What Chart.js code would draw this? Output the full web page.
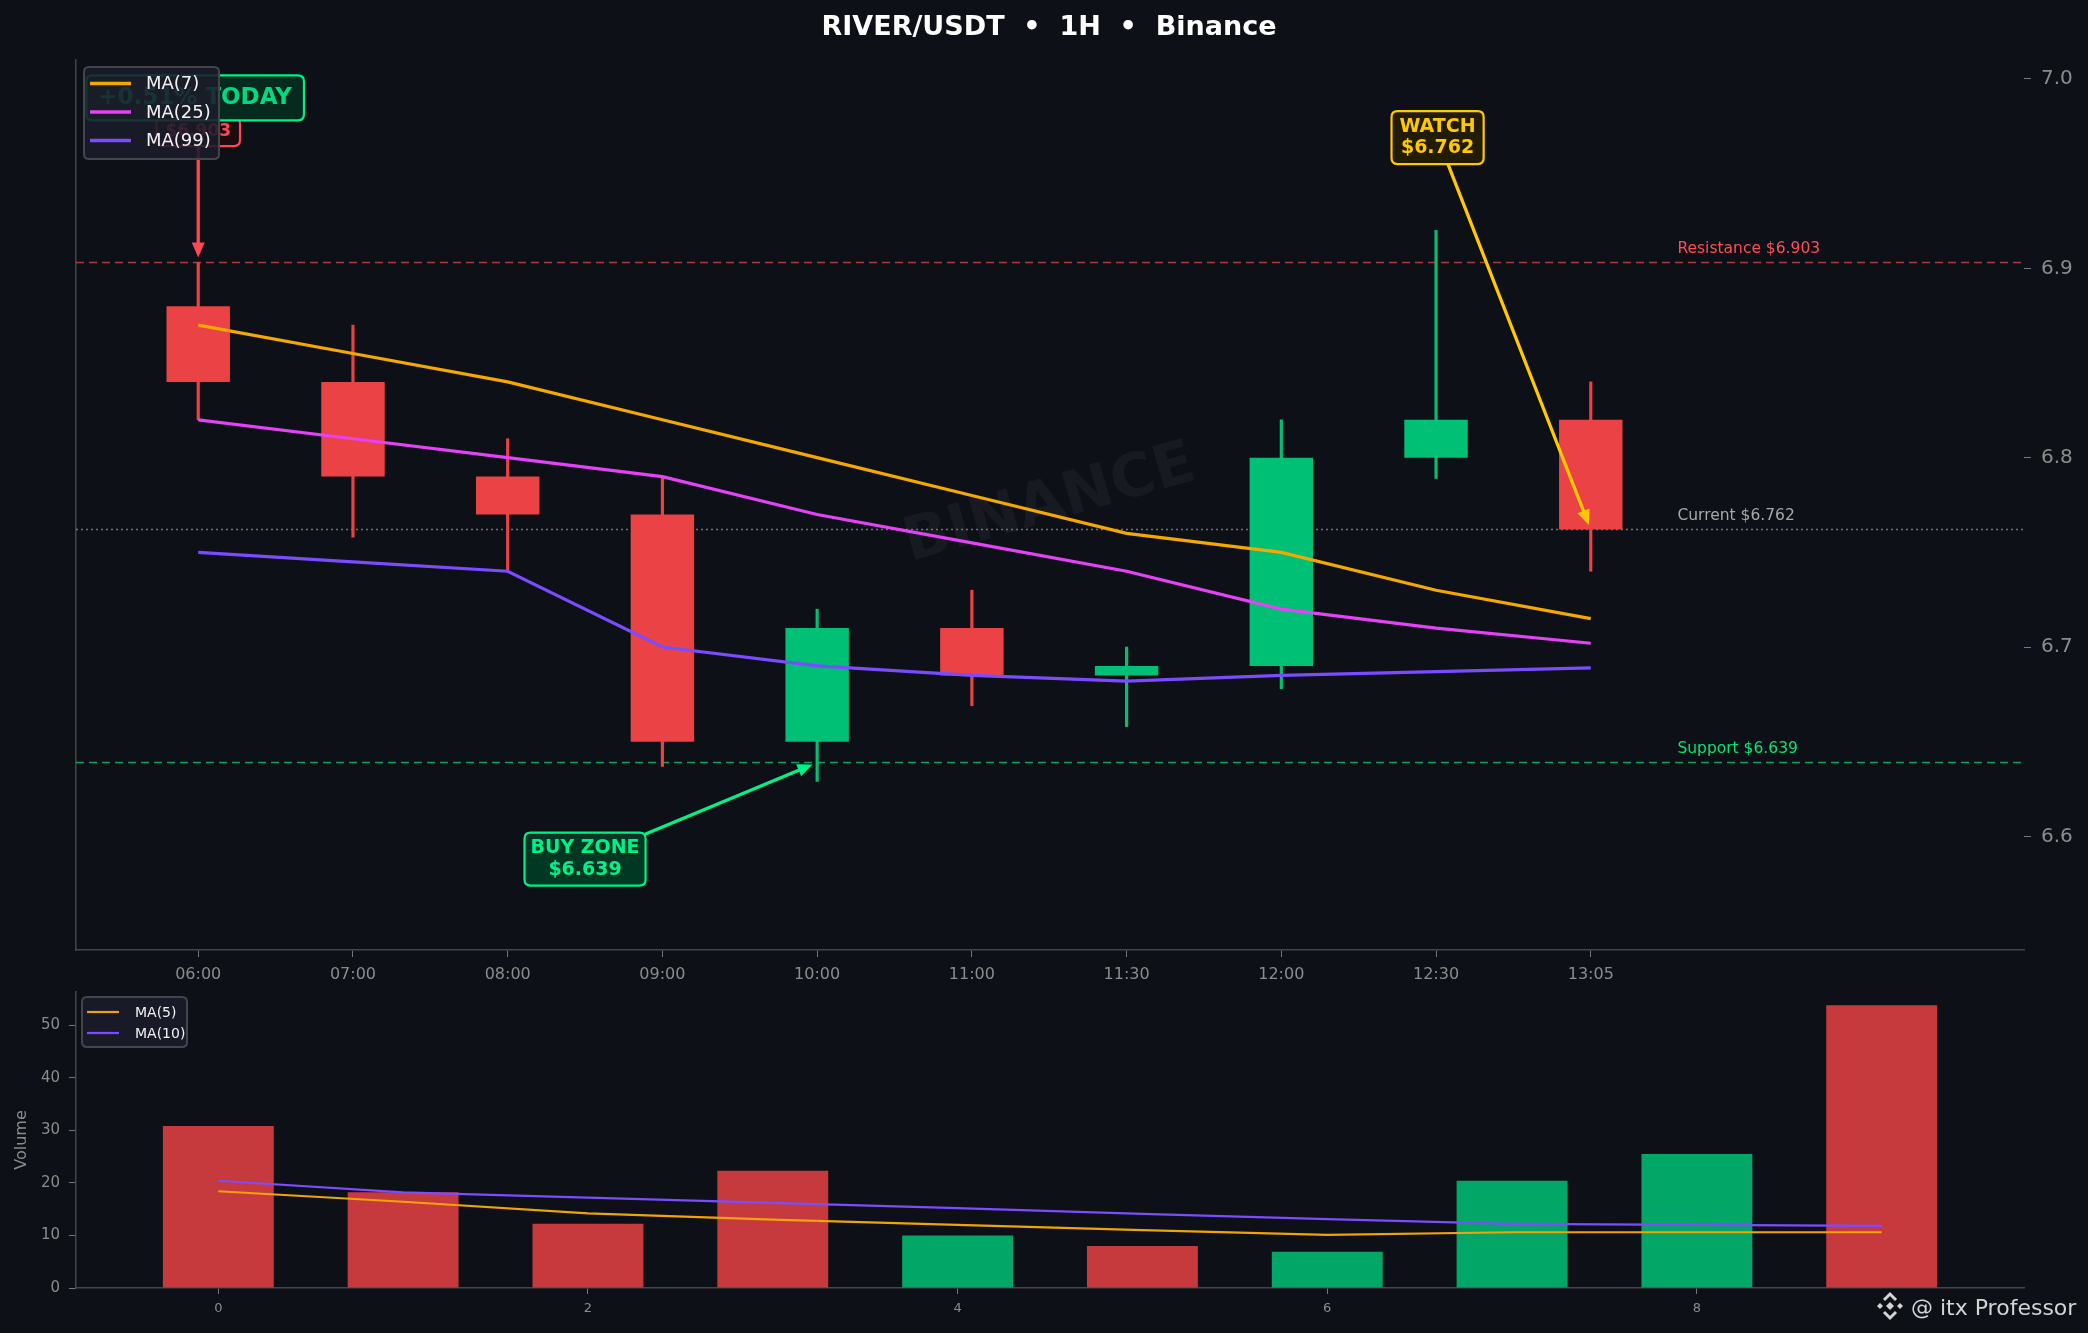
<!DOCTYPE html>
<html>
<head>
<meta charset="utf-8">
<script src="https://cdn.jsdelivr.net/npm/chart.js@4.4.1/dist/chart.umd.min.js"></script>
<style>
  html, body { margin: 0; padding: 0; background: #0d1017; }
  body { width: 2088px; height: 1333px; position: relative; overflow: hidden; }
  canvas { position: absolute; left: 0; }
  #priceChart { top: 0; }
  #volChart { top: 974px; }
</style>
</head>
<body>
<canvas id="priceChart" width="2088" height="1000"></canvas>
<canvas id="volChart" width="2088" height="359"></canvas>
<script>
const FONT = "'DejaVu Sans', sans-serif";
Chart.defaults.font.family = FONT;

// candles
const times = ['06:00', '07:00', '08:00', '09:00', '10:00', '11:00', '11:30', '12:00', '12:30', '13:05'];
const opens = [6.880, 6.840, 6.790, 6.770, 6.650, 6.710, 6.685, 6.690, 6.800, 6.820];
const highs = [6.903, 6.870, 6.810, 6.790, 6.720, 6.730, 6.700, 6.820, 6.920, 6.840];
const lows = [6.820, 6.758, 6.740, 6.637, 6.629, 6.669, 6.658, 6.678, 6.789, 6.740];
const closes = [6.840, 6.790, 6.770, 6.650, 6.710, 6.685, 6.690, 6.800, 6.820, 6.762];

const ma7 = [6.870, 6.855, 6.840, 6.820, 6.800, 6.780, 6.760, 6.750, 6.730, 6.715];
const ma25 = [6.820, 6.810, 6.800, 6.790, 6.770, 6.755, 6.740, 6.720, 6.710, 6.702];
const ma99 = [6.750, 6.745, 6.740, 6.700, 6.690, 6.685, 6.682, 6.685, 6.687, 6.689];

const volumes = [30.8, 18.2, 12.2, 22.3, 10.0, 8.0, 6.9, 20.4, 25.5, 53.8];
const volMa5 = [18.4, 16.4, 14.2, 13.0, 12.0, 11.0, 10.1, 10.6, 10.6, 10.6];
const volMa10 = [20.4, 18.2, 17.2, 16.2, 15.2, 14.1, 13.1, 12.2, 12.0, 11.8];

const resistance = 6.903;
const current = 6.762;
const support = 6.639;

const priceTicks = [6.6, 6.7, 6.8, 6.9, 7.0];
const volTicks = [0, 10, 20, 30, 40, 50];
const volXTicks = [0, 2, 4, 6, 8];

const xMin = -0.79, xMax = 11.8;
const UP = '#00c076', DOWN = '#ea4245';
const VOL_UP = '#02a768', VOL_DOWN = '#c63a3e';
const C_MA7 = '#f5a800', C_MA25 = '#e342f5', C_MA99 = '#7b4cff';

const candleColors = closes.map((c, i) => c >= opens[i] ? UP : DOWN);
const volColors = closes.map((c, i) => c >= opens[i] ? VOL_UP : VOL_DOWN);
const pts = arr => arr.map((v, i) => ({ x: i, y: v }));

function levelLine(label, v, color, dash) {
    return {
        type: 'line', label: label,
        data: [{ x: xMin, y: v }, { x: xMax, y: v }],
        borderColor: color, borderWidth: 1.5, borderDash: dash,
        pointRadius: 0, order: 10
    };
}

function maLine(label, arr, color, width) {
    return {
        type: 'line', label: label, data: pts(arr),
        borderColor: color, borderWidth: width, pointRadius: 0,
        tension: 0, order: 1
    };
}

function roundRect(ctx, x, y, w, h, r) {
    ctx.beginPath();
    ctx.moveTo(x + r, y);
    ctx.lineTo(x + w - r, y);
    ctx.quadraticCurveTo(x + w, y, x + w, y + r);
    ctx.lineTo(x + w, y + h - r);
    ctx.quadraticCurveTo(x + w, y + h, x + w - r, y + h);
    ctx.lineTo(x + r, y + h);
    ctx.quadraticCurveTo(x, y + h, x, y + h - r);
    ctx.lineTo(x, y + r);
    ctx.quadraticCurveTo(x, y, x + r, y);
    ctx.closePath();
}

function drawArrow(ctx, x1, y1, x2, y2, color, lw) {
    const ang = Math.atan2(y2 - y1, x2 - x1), hl = 15, hw = 6.5;
    const bx = x2 - hl * Math.cos(ang), by = y2 - hl * Math.sin(ang);
    ctx.strokeStyle = color;
    ctx.lineWidth = lw;
    ctx.lineCap = 'round';
    ctx.beginPath();
    ctx.moveTo(x1, y1);
    ctx.lineTo(bx, by);
    ctx.stroke();
    ctx.fillStyle = color;
    ctx.beginPath();
    ctx.moveTo(x2, y2);
    ctx.lineTo(bx + hw * Math.sin(ang), by - hw * Math.cos(ang));
    ctx.lineTo(bx - hw * Math.sin(ang), by + hw * Math.cos(ang));
    ctx.closePath();
    ctx.fill();
}

// text callouts, placed in data coordinates
const notes = [
    { lines: ['$6.903'], at: [0, 6.972], target: [0, resistance], color: '#ff4757', fill: '#1e0b0e', size: 17, padX: 9, padY: 4.5 },
    { lines: ['+0.51% TODAY'], at: [-0.02, 6.990], color: '#00d982', border: '#00ef86', fill: '#062a1d', size: 23, padX: 12, padY: 9.5 },
    { lines: ['WATCH', '$6.762'], at: [8.01, 6.969], target: [9, current], color: '#ffc800', fill: '#221c05', size: 19, padX: 8, padY: 5 },
    { lines: ['BUY ZONE', '$6.639'], at: [2.5, 6.588], target: [4, support], color: '#00f08a', fill: '#003823', size: 19, padX: 6, padY: 5 }
];

function drawNote(ctx, n, x, y) {
    ctx.font = `bold ${n.size}px ${FONT}`;
    const lineH = n.size * 1.13;
    const tw = Math.max(...n.lines.map(t => ctx.measureText(t).width));
    const w = tw + 2 * n.padX, h = n.lines.length * lineH + 2 * n.padY;
    const cx = x.getPixelForValue(n.at[0]), cy = y.getPixelForValue(n.at[1]);
    if (n.target) {
        const tx = x.getPixelForValue(n.target[0]), ty = y.getPixelForValue(n.target[1]);
        const dx = tx - cx, dy = ty - cy;
        const s = Math.min(Math.abs(w / 2 / dx) || Infinity, Math.abs(h / 2 / dy) || Infinity);
        const len = Math.hypot(dx, dy);
        drawArrow(ctx, cx + dx * s, cy + dy * s, tx - dx / len * 5, ty - dy / len * 5, n.color, 3.3);
    }
    roundRect(ctx, cx - w / 2, cy - h / 2, w, h, 6);
    ctx.fillStyle = n.fill;
    ctx.fill();
    ctx.strokeStyle = n.border || n.color;
    ctx.lineWidth = 2.2;
    ctx.stroke();
    ctx.fillStyle = n.color;
    ctx.textAlign = 'center';
    ctx.textBaseline = 'middle';
    n.lines.forEach((t, i) => ctx.fillText(t, cx, cy - h / 2 + n.padY + lineH * (i + 0.5)));
}

function drawLegend(ctx, left, top, w, h, items, size, first, gap, swL, swR, textX, lw) {
    roundRect(ctx, left, top, w, h, 5);
    ctx.fillStyle = 'rgba(27,27,42,0.88)';
    ctx.fill();
    ctx.strokeStyle = '#44444c';
    ctx.lineWidth = 2;
    ctx.stroke();
    ctx.font = `${size}px ${FONT}`;
    ctx.textAlign = 'left';
    ctx.textBaseline = 'middle';
    items.forEach((it, i) => {
        const yy = top + first + gap * i;
        ctx.strokeStyle = it.color;
        ctx.lineWidth = lw;
        ctx.lineCap = 'butt';
        ctx.beginPath();
        ctx.moveTo(left + swL, yy);
        ctx.lineTo(left + swR, yy);
        ctx.stroke();
        ctx.fillStyle = '#f2f2f2';
        ctx.fillText(it.label, left + textX, yy + 1);
    });
}

const levelLabels = [
    { text: 'Resistance $6.903', value: resistance, color: '#ff4d5a' },
    { text: 'Current $6.762', value: current, color: '#a8a8a8' },
    { text: 'Support $6.639', value: support, color: '#00e676' }
];

const priceOverlay = {
    id: 'priceOverlay',
    beforeDatasetsDraw(chart) {
        const { ctx, chartArea: a } = chart;
        ctx.save();
        ctx.translate((a.left + a.right) / 2, (a.top + a.bottom) / 2);
        ctx.rotate(-16 * Math.PI / 180);
        ctx.font = `bold 60px ${FONT}`;
        ctx.fillStyle = 'rgba(255,255,255,0.045)';
        ctx.textAlign = 'center';
        ctx.textBaseline = 'middle';
        ctx.fillText('BINANCE', 0, 0);
        ctx.restore();
    },
    afterDatasetsDraw(chart) {
        const { ctx, chartArea: a, scales: { x, y } } = chart;
        ctx.save();
        ctx.font = `15.5px ${FONT}`;
        ctx.textAlign = 'left';
        ctx.textBaseline = 'alphabetic';
        levelLabels.forEach(l => {
            ctx.fillStyle = l.color;
            ctx.fillText(l.text, x.getPixelForValue(9.56), y.getPixelForValue(l.value) - 9.5);
        });
        notes.forEach(n => drawNote(ctx, n, x, y));
        drawLegend(ctx, a.left + 8, a.top + 7, 135, 92,
            [{ label: 'MA(7)', color: C_MA7 }, { label: 'MA(25)', color: C_MA25 }, { label: 'MA(99)', color: C_MA99 }],
            18, 16.5, 28.5, 6, 47, 62, 3.5);
        ctx.restore();
    }
};

new Chart(document.getElementById('priceChart'), {
    type: 'bar',
    data: {
        datasets: [
            levelLine('Resistance', resistance, 'rgba(230,60,75,0.8)', [8, 5]),
            levelLine('Current', current, 'rgba(150,150,150,0.75)', [2, 3]),
            levelLine('Support', support, 'rgba(0,200,110,0.8)', [8, 5]),
            {
                type: 'bar', label: 'Wick',
                data: times.map((t, i) => ({ x: i, y: [lows[i], highs[i]] })),
                backgroundColor: candleColors, barThickness: 2.5, grouped: false, order: 5
            },
            {
                type: 'bar', label: 'Body',
                data: times.map((t, i) => ({ x: i, y: [opens[i], closes[i]] })),
                backgroundColor: candleColors, barPercentage: 0.41, categoryPercentage: 1,
                grouped: false, order: 4
            },
            maLine('MA(7)', ma7, C_MA7, 3.2),
            maLine('MA(25)', ma25, C_MA25, 3.2),
            maLine('MA(99)', ma99, C_MA99, 3.2)
        ]
    },
    options: {
        responsive: false,
        animation: false,
        events: [],
        layout: { padding: { left: 10, right: 0, top: 0, bottom: 0 } },
        plugins: {
            legend: { display: false },
            tooltip: { enabled: false },
            title: {
                display: true, text: 'RIVER/USDT  •  1H  •  Binance', color: '#ffffff',
                font: { size: 27, weight: 'bold' }, padding: { top: 11.5, bottom: 16.1 }
            }
        },
        scales: {
            x: {
                type: 'linear', min: xMin, max: xMax, offset: false,
                afterBuildTicks: s => { s.ticks = times.map((t, i) => ({ value: i })); },
                afterFit: s => { s.height = 50; },
                ticks: { callback: v => times[v], color: '#8c8c8c', font: { size: 16 }, padding: 8, autoSkip: false, maxRotation: 0 },
                grid: { display: true, drawOnChartArea: false, drawTicks: true, tickLength: 7, color: '#777', offset: false },
                border: { display: true, color: '#454545', width: 1.5 }
            },
            y: {
                type: 'linear', position: 'right', min: 6.54, max: 7.01,
                afterBuildTicks: s => { s.ticks = priceTicks.map(v => ({ value: v })); },
                afterFit: s => { s.width = 64; },
                ticks: { callback: v => v.toFixed(1), color: '#8c8c8c', font: { size: 20 }, padding: 10 },
                grid: { drawOnChartArea: false, tickLength: 7, color: '#777' },
                border: { display: false }
            },
            yl: {
                type: 'linear', position: 'left',
                ticks: { display: false },
                grid: { display: false },
                border: { display: true, color: '#454545', width: 1.5 },
                afterFit: s => { s.width = 66; }
            }
        }
    },
    plugins: [priceOverlay]
});

const volOverlay = {
    id: 'volOverlay',
    afterDatasetsDraw(chart) {
        const { ctx, chartArea: a } = chart;
        ctx.save();
        drawLegend(ctx, a.left + 6, a.top + 5, 105, 50,
            [{ label: 'MA(5)', color: '#f0a30a' }, { label: 'MA(10)', color: '#7b4dff' }],
            14, 15, 21, 5, 37, 53, 2.2);

        // signature, bottom right (canvas starts at y 974)
        const lx = 1890, ly = 1306 - 974;
        ctx.fillStyle = '#d4d4d4';
        const diamond = (cx, cy, r) => {
            ctx.beginPath();
            ctx.moveTo(cx, cy - r); ctx.lineTo(cx + r, cy); ctx.lineTo(cx, cy + r); ctx.lineTo(cx - r, cy);
            ctx.closePath(); ctx.fill();
        };
        diamond(lx, ly, 4);
        diamond(lx - 10, ly, 3);
        diamond(lx + 10, ly, 3);
        ctx.strokeStyle = '#d4d4d4';
        ctx.lineWidth = 3;
        ctx.beginPath();
        ctx.moveTo(lx - 6, ly - 6); ctx.lineTo(lx, ly - 12); ctx.lineTo(lx + 6, ly - 6);
        ctx.moveTo(lx - 6, ly + 6); ctx.lineTo(lx, ly + 12); ctx.lineTo(lx + 6, ly + 6);
        ctx.stroke();
        ctx.font = `22px ${FONT}`;
        ctx.textAlign = 'left';
        ctx.textBaseline = 'alphabetic';
        ctx.fillText('@ itx Professor', 1911, 1315 - 974);
        ctx.restore();
    }
};

new Chart(document.getElementById('volChart'), {
    type: 'bar',
    data: {
        datasets: [
            { type: 'line', label: 'MA(5)', data: pts(volMa5), borderColor: '#f0a30a', borderWidth: 2.2, pointRadius: 0, order: 1 },
            { type: 'line', label: 'MA(10)', data: pts(volMa10), borderColor: '#7b4dff', borderWidth: 2.2, pointRadius: 0, order: 1 },
            {
                type: 'bar', label: 'Volume', data: pts(volumes), backgroundColor: volColors,
                barPercentage: 0.6, categoryPercentage: 1, order: 2
            }
        ]
    },
    options: {
        responsive: false,
        animation: false,
        events: [],
        layout: { padding: { left: 0, right: 64, top: 0, bottom: 0 } },
        plugins: { legend: { display: false }, tooltip: { enabled: false } },
        scales: {
            x: {
                type: 'linear', min: -0.77, max: 9.77, offset: false,
                afterBuildTicks: s => { s.ticks = volXTicks.map(v => ({ value: v })); },
                afterFit: s => { s.height = 45; },
                ticks: { color: '#8c8c8c', font: { size: 13 }, padding: 7, autoSkip: false, maxRotation: 0 },
                grid: { drawOnChartArea: false, tickLength: 6, color: '#777', offset: false },
                border: { color: '#454545', width: 1.5 }
            },
            y: {
                type: 'linear', position: 'left', min: 0, max: 56.3,
                afterBuildTicks: s => { s.ticks = volTicks.map(v => ({ value: v })); },
                afterFit: s => { s.width = 76; },
                ticks: { color: '#8c8c8c', font: { size: 15 }, padding: 9 },
                grid: { drawOnChartArea: false, tickLength: 7, color: '#777' },
                border: { color: '#454545', width: 1.5 },
                title: { display: true, text: 'Volume', color: '#8c8c8c', font: { size: 16 }, padding: { top: 12, bottom: 0 } }
            }
        }
    },
    plugins: [volOverlay]
});
</script>
</body>
</html>
